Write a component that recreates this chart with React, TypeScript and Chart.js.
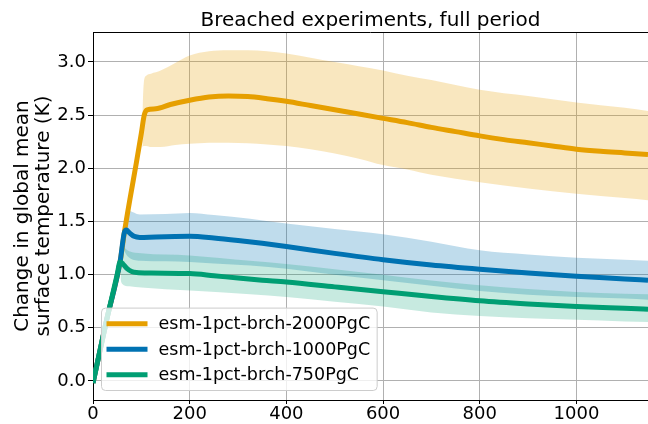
import React, { useEffect, useRef } from 'react';
import { Chart, registerables } from 'chart.js';

Chart.register(...registerables);

// ---- text ----
const TITLE = 'Breached experiments, full period';
const Y_LABEL = ['Change in global mean', 'surface temperature (K)'];
const SERIES_NAMES = ['esm-1pct-brch-2000PgC', 'esm-1pct-brch-1000PgC', 'esm-1pct-brch-750PgC'];
const COLORS = ['#E69F00', '#0072B2', '#009E73'];
const BAND_COLORS = ['rgba(230,159,0,0.25)', 'rgba(0,114,178,0.25)', 'rgba(0,158,115,0.22)'];

// ---- axes ----
const X_TICKS = [0, 200, 400, 600, 800, 1000];
const Y_TICKS = [0, 0.5, 1.0, 1.5, 2.0, 2.5, 3.0];
const X_MIN = 0;
const X_MAX = 1148;
const Y_MIN = -0.179;
const Y_MAX = 3.282;

// ---- esm-1pct-brch-2000PgC ----
const years2000 = [0, 28, 56, 65, 76, 90, 100, 106, 112, 130, 160, 200, 240, 280, 320, 360, 400, 450, 500, 550, 600, 650, 700, 750, 800, 850, 900, 950, 1000, 1050, 1100, 1148];
const temp2000 = [-0.02, 0.57, 1.12, 1.40, 1.70, 2.06, 2.33, 2.50, 2.55, 2.56, 2.60, 2.64, 2.67, 2.68, 2.675, 2.655, 2.63, 2.59, 2.55, 2.51, 2.47, 2.43, 2.385, 2.345, 2.305, 2.27, 2.24, 2.21, 2.18, 2.16, 2.145, 2.13];
const bandYears2000 = [102, 105, 110, 120, 140, 170, 200, 240, 280, 320, 360, 400, 450, 500, 550, 600, 650, 700, 800, 900, 1000, 1100, 1148];
const upper2000 = [2.50, 2.80, 2.87, 2.89, 2.92, 2.99, 3.06, 3.10, 3.11, 3.11, 3.10, 3.08, 3.04, 3.00, 2.96, 2.92, 2.87, 2.83, 2.74, 2.68, 2.62, 2.57, 2.54];
const lower2000 = [2.20, 2.21, 2.21, 2.20, 2.20, 2.22, 2.23, 2.24, 2.24, 2.235, 2.225, 2.21, 2.18, 2.14, 2.09, 2.03, 1.99, 1.94, 1.87, 1.81, 1.76, 1.72, 1.70];

// ---- esm-1pct-brch-1000PgC ----
const years1000 = [0, 28, 56, 65, 69, 75, 85, 97, 130, 200, 250, 300, 350, 400, 500, 600, 700, 800, 900, 1000, 1100, 1148];
const temp1000 = [-0.02, 0.57, 1.12, 1.40, 1.42, 1.395, 1.36, 1.35, 1.355, 1.36, 1.345, 1.322, 1.295, 1.265, 1.20, 1.14, 1.09, 1.05, 1.015, 0.984, 0.96, 0.947];
const bandYears1000 = [65, 72, 97, 150, 200, 250, 325, 400, 500, 600, 700, 800, 900, 1000, 1100, 1148];
const upper1000 = [1.50, 1.60, 1.565, 1.57, 1.58, 1.56, 1.525, 1.48, 1.43, 1.38, 1.31, 1.23, 1.19, 1.16, 1.14, 1.13];
const lower1000 = [1.22, 1.17, 1.13, 1.125, 1.12, 1.105, 1.087, 1.056, 1.00, 0.947, 0.895, 0.846, 0.81, 0.79, 0.775, 0.765];

// ---- esm-1pct-brch-750PgC ----
const years750 = [0, 28, 50, 56, 62, 70, 80, 90, 120, 200, 250, 300, 350, 400, 500, 600, 700, 800, 900, 1000, 1100, 1148];
const temp750 = [-0.02, 0.57, 1.0, 1.12, 1.10, 1.06, 1.03, 1.02, 1.015, 1.01, 0.99, 0.968, 0.948, 0.93, 0.885, 0.84, 0.795, 0.755, 0.725, 0.70, 0.683, 0.675];
const bandYears750 = [57, 60, 75, 100, 200, 325, 400, 500, 600, 700, 800, 900, 1000, 1100, 1148];
const upper750 = [1.22, 1.26, 1.22, 1.20, 1.18, 1.13, 1.10, 1.05, 1.00, 0.945, 0.90, 0.865, 0.837, 0.82, 0.815];
const lower750 = [0.95, 0.915, 0.89, 0.88, 0.85, 0.815, 0.79, 0.745, 0.70, 0.645, 0.61, 0.59, 0.575, 0.56, 0.555];

const FONT = '"DejaVu Sans", sans-serif';

const toPts = (xs: number[], ys: number[]) => xs.map((x, i) => ({ x, y: ys[i] }));

const spinePlugin = {
  id: 'topSpine',
  afterDatasetsDraw(chart: any) {
    const { ctx, chartArea } = chart;
    ctx.save();
    ctx.strokeStyle = '#000';
    ctx.lineWidth = 1;
    ctx.beginPath();
    ctx.moveTo(chartArea.left, chartArea.top + 0.5);
    ctx.lineTo(chartArea.right, chartArea.top + 0.5);
    ctx.stroke();
    ctx.restore();
  },
};

const legendPlugin = {
  id: 'boxLegend',
  afterDatasetsDraw(chart: any) {
    const { ctx, chartArea } = chart;
    const fontSize = 17.5;
    ctx.save();
    ctx.font = `${fontSize}px ${FONT}`;
    const rowH = 25.5;
    const handleLen = 41;
    const handleGap = 11;
    const padL = 5;
    const padR = 7;
    const padV = 15.7;
    const textW = Math.max(...SERIES_NAMES.map((n) => ctx.measureText(n).width));
    const w = padL + handleLen + handleGap + textW + padR;
    const h = padV * 2 + rowH * (SERIES_NAMES.length - 1);
    const x0 = chartArea.left + 8.5;
    const y1 = chartArea.bottom - 9.5;
    const y0 = y1 - h;
    ctx.beginPath();
    if (ctx.roundRect) ctx.roundRect(x0, y0, w, h, 4);
    else ctx.rect(x0, y0, w, h);
    ctx.fillStyle = 'rgba(255,255,255,0.8)';
    ctx.fill();
    ctx.strokeStyle = '#cccccc';
    ctx.lineWidth = 1;
    ctx.stroke();
    SERIES_NAMES.forEach((name, i) => {
      const cy = y0 + padV + i * rowH;
      ctx.strokeStyle = COLORS[i];
      ctx.lineWidth = 5;
      ctx.lineCap = 'butt';
      ctx.beginPath();
      ctx.moveTo(x0 + padL, cy);
      ctx.lineTo(x0 + padL + handleLen, cy);
      ctx.stroke();
      ctx.fillStyle = '#000';
      ctx.textBaseline = 'middle';
      ctx.textAlign = 'left';
      ctx.fillText(name, x0 + padL + handleLen + handleGap, cy + 1);
    });
    ctx.restore();
  },
};

export default function App() {
  const canvasRef = useRef<HTMLCanvasElement | null>(null);

  useEffect(() => {
    document.body.style.margin = '0';
    const canvas = canvasRef.current;
    if (!canvas) return;

    const lineDs = (label: string, xs: number[], ys: number[], color: string, order: number) => ({
      label,
      data: toPts(xs, ys),
      borderColor: color,
      backgroundColor: color,
      borderWidth: 5,
      pointRadius: 0,
      fill: false,
      cubicInterpolationMode: 'monotone' as const,
      order,
    });
    const bandDs = (xs: number[], ys: number[], color: string, order: number, fillNext: boolean) => ({
      label: '',
      data: toPts(xs, ys),
      borderColor: 'rgba(0,0,0,0)',
      backgroundColor: color,
      borderWidth: 0,
      pointRadius: 0,
      fill: fillNext ? '+1' : false,
      cubicInterpolationMode: 'monotone' as const,
      order,
    });

    const chart = new Chart(canvas, {
      type: 'line',
      data: {
        datasets: [
          lineDs(SERIES_NAMES[0], years2000, temp2000, COLORS[0], 0.3),
          lineDs(SERIES_NAMES[1], years1000, temp1000, COLORS[1], 0.2),
          lineDs(SERIES_NAMES[2], years750, temp750, COLORS[2], 0.1),
          bandDs(bandYears2000, upper2000, BAND_COLORS[0], 3, true),
          bandDs(bandYears2000, lower2000, BAND_COLORS[0], 3, false),
          bandDs(bandYears1000, upper1000, BAND_COLORS[1], 2, true),
          bandDs(bandYears1000, lower1000, BAND_COLORS[1], 2, false),
          bandDs(bandYears750, upper750, BAND_COLORS[2], 1, true),
          bandDs(bandYears750, lower750, BAND_COLORS[2], 1, false),
        ] as any,
      },
      options: {
        animation: false,
        responsive: false,
        devicePixelRatio: 1,
        layout: { padding: 0 },
        plugins: {
          legend: { display: false },
          tooltip: { enabled: false },
          title: {
            display: true,
            text: TITLE,
            fullSize: false,
            color: '#000',
            font: { family: FONT, size: 20, weight: 'normal', lineHeight: 1.15 },
            padding: { top: 9, bottom: 0 },
          },
        },
        scales: {
          x: {
            type: 'linear',
            min: X_MIN,
            max: X_MAX,
            afterBuildTicks: (scale: any) => {
              scale.ticks = X_TICKS.map((v) => ({ value: v }));
            },
            afterFit: (scale: any) => {
              scale.height = 24;
            },
            ticks: {
              color: '#000',
              font: { family: FONT, size: 18, lineHeight: 1.0 },
              padding: 1,
              maxRotation: 0,
              autoSkip: false,
              callback: (v: any) => String(v),
            },
            grid: {
              color: '#b0b0b0',
              lineWidth: 1,
              drawTicks: true,
              tickLength: 4,
              tickColor: '#000',
              tickWidth: 1,
            },
            border: { display: true, color: '#000', width: 1 },
          },
          y: {
            type: 'linear',
            min: Y_MIN,
            max: Y_MAX,
            afterBuildTicks: (scale: any) => {
              scale.ticks = Y_TICKS.map((v) => ({ value: v }));
            },
            afterFit: (scale: any) => {
              scale.width = 93;
            },
            ticks: {
              color: '#000',
              font: { family: FONT, size: 18 },
              padding: 2,
              callback: (v: any) => Number(v).toFixed(1),
            },
            grid: {
              color: '#b0b0b0',
              lineWidth: 1,
              drawTicks: true,
              tickLength: 5,
              tickColor: '#000',
              tickWidth: 1,
            },
            border: { display: true, color: '#000', width: 1 },
            title: {
              display: true,
              text: Y_LABEL,
              color: '#000',
              font: { family: FONT, size: 20, lineHeight: 1.05 },
              padding: { top: 12, bottom: 0 },
            },
          },
        },
      } as any,
      plugins: [spinePlugin, legendPlugin],
    });

    return () => chart.destroy();
  }, []);

  return (
    <div style={{ width: 648, height: 424, position: 'relative' }}>
      <canvas ref={canvasRef} width={648} height={424} style={{ display: 'block' }} />
    </div>
  );
}
